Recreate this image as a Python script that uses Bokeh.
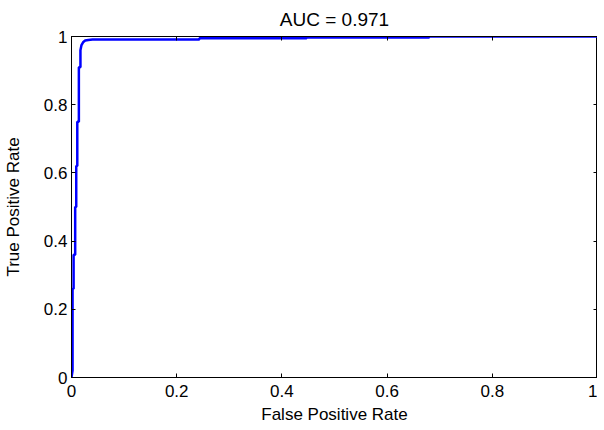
from bokeh.plotting import figure
from bokeh.models import Range1d, FixedTicker, LinearAxis, Title
from bokeh.embed import file_html
from bokeh.resources import INLINE

# ROC curve points
fpr = [0.0, 0.002, 0.002, 0.004, 0.004, 0.007, 0.007, 0.009, 0.009, 0.011, 0.011,
       0.014, 0.014, 0.017, 0.017, 0.019, 0.022, 0.026, 0.032, 0.040,
       0.243, 0.243, 0.447, 0.447, 0.68, 0.68, 1.0]
tpr = [0.0, 0.02, 0.26, 0.26, 0.36, 0.36, 0.50, 0.50, 0.62, 0.62, 0.75,
       0.75, 0.91, 0.91, 0.96, 0.975, 0.983, 0.988, 0.990, 0.991,
       0.991, 0.995, 0.995, 0.997, 0.997, 1.0, 1.0]

ticks = [0, 0.2, 0.4, 0.6, 0.8, 1]
tick_labels = ["0", "0.2", "0.4", "0.6", "0.8", "1"]
title_text = "AUC = 0.971"
xlabel = "False Positive Rate"
ylabel = "True Positive Rate"

FONT = "Liberation Sans"

p = figure(frame_width=526, frame_height=341, output_backend="svg", toolbar_location=None,
           x_range=Range1d(0, 1), y_range=Range1d(0, 1),
           min_border_left=0, min_border_right=0, min_border_top=0, min_border_bottom=0)
p.title = Title(text=title_text, align="center", text_font=FONT, standoff=13,
                text_font_size="19px", text_font_style="normal", text_color="black")
p.background_fill_color = "white"
p.border_fill_color = "white"
p.outline_line_color = "black"
p.outline_line_width = 1
p.grid.visible = False

overrides = {t: l for t, l in zip(ticks, tick_labels)}

for ax in (p.xaxis[0], p.yaxis[0]):
    ax.ticker = FixedTicker(ticks=ticks)
    ax.major_label_overrides = overrides
    ax.major_tick_in = 4
    ax.major_tick_out = 0
    ax.minor_tick_line_color = None
    ax.axis_line_color = "black"
    ax.major_tick_line_color = "black"
    ax.major_label_text_font = FONT
    ax.major_label_text_font_size = "17px"
    ax.major_label_text_color = "black"
    ax.axis_label_text_font = FONT
    ax.axis_label_text_font_size = "17px"
    ax.axis_label_text_font_style = "normal"
    ax.axis_label_text_color = "black"

p.xaxis[0].axis_label = xlabel
p.yaxis[0].axis_label = ylabel
p.xaxis[0].major_label_standoff = 7
p.xaxis[0].axis_label_standoff = 5
p.yaxis[0].major_label_standoff = 4
p.yaxis[0].axis_label_standoff = 18

for loc in ("above", "right"):
    ax = LinearAxis(ticker=FixedTicker(ticks=ticks), major_label_text_font_size="0px",
                    major_tick_in=4, major_tick_out=0, minor_tick_line_color=None,
                    axis_line_color="black", major_tick_line_color="black",
                    major_label_standoff=0)
    ax.major_label_overrides = {t: "" for t in ticks}
    p.add_layout(ax, loc)

p.line(fpr, tpr, line_color="#0000ff", line_width=2.5)

open("out.html", "w").write(file_html(p, INLINE))
